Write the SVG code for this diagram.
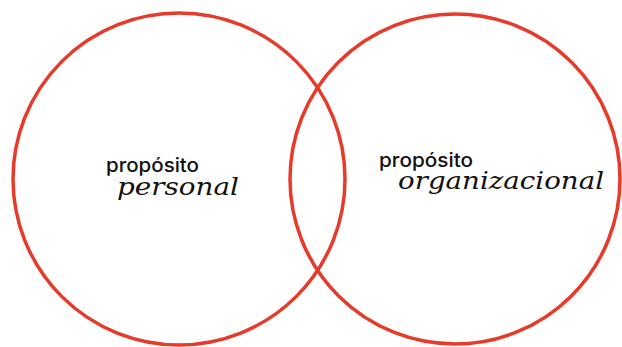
<svg xmlns="http://www.w3.org/2000/svg" width="622" height="347" viewBox="0 0 622 347">
<style>
.ring{fill:none;stroke:#e63b2a;stroke-width:3.5}
.sans{font-family:Inter,"Open Sans","Liberation Sans",sans-serif;font-weight:500;font-size:19px;fill:#111}
.script{font-family:"DejaVu Serif","Liberation Serif",serif;font-style:italic;font-size:25px;fill:#111}
</style>
<rect width="622" height="347" fill="#fff"/>
<g id="personal">
<circle class="ring" cx="179" cy="179" r="166"/>
<text class="sans" x="106" y="172" textLength="93" lengthAdjust="spacingAndGlyphs">propósito</text>
<text class="script" x="117" y="195" textLength="122" lengthAdjust="spacingAndGlyphs">personal</text>
</g>
<g id="organizacional">
<circle class="ring" cx="455" cy="179" r="165"/>
<text class="sans" x="379" y="167" textLength="94" lengthAdjust="spacingAndGlyphs">propósito</text>
<text class="script" x="398" y="189" textLength="206" lengthAdjust="spacingAndGlyphs">organizacional</text>
</g>
<g id="connectors"/>
</svg>
